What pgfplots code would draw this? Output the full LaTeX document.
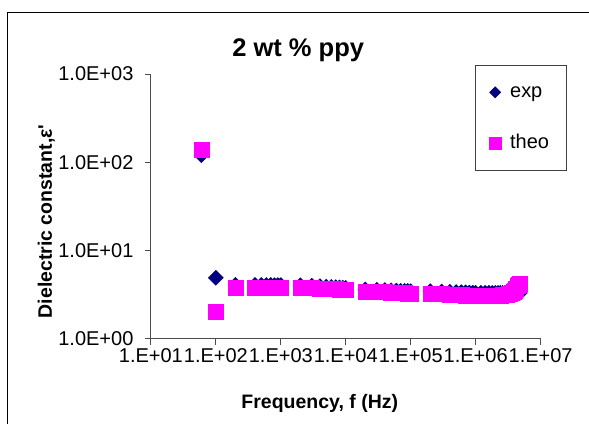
\documentclass[border=0pt]{standalone}
\usepackage{pgfplots}
\pgfplotsset{compat=1.18}
\usepackage{fontspec}
\setmainfont{Liberation Sans}
\definecolor{expcol}{RGB}{0,0,128}
\definecolor{theocol}{RGB}{255,0,255}

\pgfplotstableread{
f      eps
60     120
100    4.9
200    4.08
400    4.08
500    4.08
600    4.07
700    4.07
800    4.06
900    4.06
1000   4.06
2000   4.04
3000   4.0
4000   3.95
5000   3.9
6000   3.87
7000   3.84
8000   3.82
9000   3.8
10000  3.78
20000  3.62
30000  3.59
40000  3.56
50000  3.54
60000  3.52
70000  3.5
80000  3.49
90000  3.48
100000 3.47
200000 3.46
300000 3.43
400000 3.41
500000 3.39
600000 3.37
700000 3.36
800000 3.34
900000 3.33
1000000 3.32
1200000 3.32
1400000 3.32
1600000 3.32
1800000 3.31
2000000 3.31
2200000 3.31
2400000 3.31
2600000 3.31
2800000 3.31
3000000 3.31
3200000 3.31
3400000 3.31
3600000 3.31
3800000 3.31
4000000 3.31
4200000 3.31
4400000 3.31
4600000 3.31
4800000 3.31
}\expdata

\pgfplotstableread{
f      eps
60     137
100    2.02
200    3.82
400    3.83
500    3.83
600    3.83
700    3.83
800    3.82
900    3.82
1000   3.82
2000   3.82
3000   3.77
4000   3.73
5000   3.7
6000   3.67
7000   3.65
8000   3.63
9000   3.61
10000  3.6
20000  3.44
30000  3.4
40000  3.37
50000  3.35
60000  3.32
70000  3.3
80000  3.29
90000  3.27
100000 3.26
200000 3.23
300000 3.2
400000 3.17
500000 3.15
600000 3.13
700000 3.11
800000 3.1
900000 3.08
1000000 3.07
1200000 3.06
1400000 3.06
1600000 3.06
1800000 3.07
2000000 3.08
2200000 3.09
2400000 3.1
2600000 3.12
2800000 3.14
3000000 3.17
3200000 3.2
3400000 3.25
3600000 3.3
3800000 3.38
4000000 3.5
4200000 3.7
4400000 4.0
4600000 4.15
4800000 4.2
}\theodata

\begin{document}
\begin{tikzpicture}[x=1pt,y=1pt]
\path (0,0) rectangle (589,424);
% chart frame (cut at the right and bottom edges)
\draw[black, line width=0.8pt] (7,0) -- (7,412) -- (589,412);
\begin{axis}[
    at={(151pt,85pt)}, anchor=south west,
    scale only axis, width=390pt, height=265pt,
    xmode=log, ymode=log,
    xmin=10, xmax=1e7, ymin=1, ymax=1000,
    axis lines=left,
    axis line style={-, black!70, line width=0.8pt},
    tick align=outside, major tick length=6pt,
    tick style={black!70, line width=0.8pt},
    xminorticks=false, yminorticks=false,
    xtick={10,100,1000,10000,100000,1000000,10000000},
    xticklabels={1.E+01,1.E+02,1.E+03,1.E+04,1.E+05,1.E+06,1.E+07},
    ytick={1,10,100,1000},
    yticklabels={1.0E+00,1.0E+01,1.0E+02,1.0E+03},
    ticklabel style={font=\fontsize{20}{24}\selectfont},
    yticklabel style={xshift=-8pt},
    clip=false,
    legend cell align=left,
    legend style={at={(rel axis cs:0.831,1.034)}, anchor=north west,
        draw=black!75, line width=0.8pt,
        font=\fontsize{20}{24}\selectfont,
        inner xsep=14pt, inner ysep=15pt, row sep=27pt, column sep=6pt,
        nodes={inner sep=3pt, text height=14pt, text depth=4pt}},
]
% exp: navy diamonds
\addplot[only marks, mark=square*, mark size=5.3pt,
    mark options={rotate=45, fill=expcol, draw=expcol},
    legend image code/.code={\draw[only marks, mark=square*, mark size=3.8pt,
        mark options={rotate=45, fill=expcol, draw=expcol}] plot coordinates {(0cm,0cm)};}]
    table[x=f, y=eps] {\expdata};
\addlegendentry{exp}
% theo: magenta squares
\addplot[only marks, mark=square*, mark size=7.5pt,
    mark options={fill=theocol, draw=theocol},
    legend image code/.code={\draw[only marks, mark=square*, mark size=6pt,
        mark options={fill=theocol, draw=theocol}] plot coordinates {(0cm,0cm)};}]
    table[x=f, y=eps] {\theodata};
\addlegendentry{theo}
\end{axis}
\node[font=\bfseries\fontsize{25.5}{30}\selectfont, anchor=base] at (298.4,367.3) {2 wt \% ppy};
\node[font=\bfseries\fontsize{19.5}{23}\selectfont, anchor=base] at (320,15) {Frequency, f (Hz)};
\node[font=\bfseries\fontsize{19.5}{23}\selectfont, anchor=base, rotate=90] at (52,202.5) {Dielectric constant,ε\textquotesingle};
\end{tikzpicture}
\end{document}
